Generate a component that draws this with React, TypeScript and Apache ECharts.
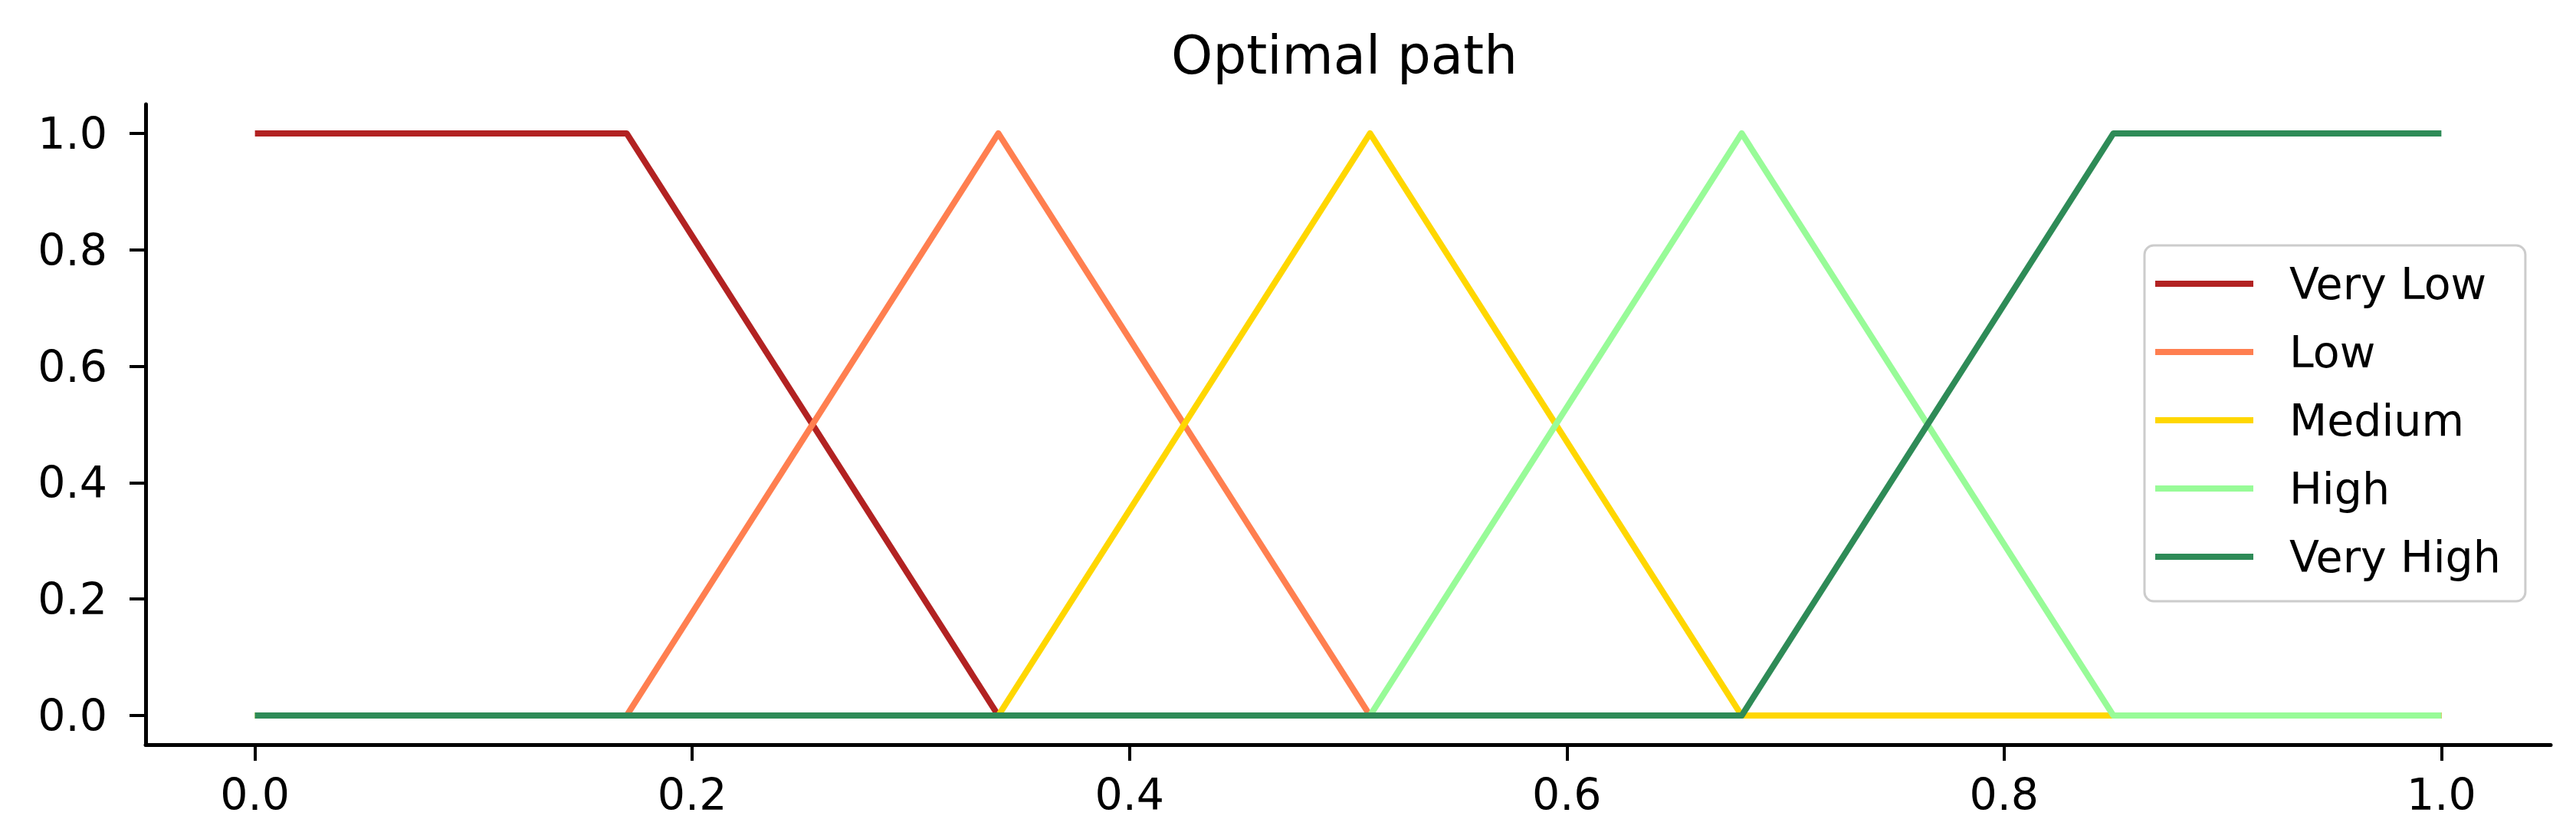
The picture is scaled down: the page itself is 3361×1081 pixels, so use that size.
import React, { useEffect, useRef } from "react";
import * as echarts from "echarts";

const TITLE = "Optimal path";
const SERIES_NAMES = ["Very Low", "Low", "Medium", "High", "Very High"];
const SERIES_COLORS = ["#B22222", "#FF7F50", "#FFD700", "#98FB98", "#2E8B57"];

const veryLowX = [0, 0.17, 0.34, 1];
const veryLowY = [1, 1, 0, 0];
const lowX = [0, 0.17, 0.34, 0.51, 1];
const lowY = [0, 0, 1, 0, 0];
const mediumX = [0, 0.34, 0.51, 0.68, 1];
const mediumY = [0, 0, 1, 0, 0];
const highX = [0, 0.51, 0.68, 0.85, 1];
const highY = [0, 0, 1, 0, 0];
const veryHighX = [0, 0.68, 0.85, 1];
const veryHighY = [0, 0, 1, 1];

const X_TICKS = [0, 0.2, 0.4, 0.6, 0.8, 1.0];
const Y_TICKS = [0, 0.2, 0.4, 0.6, 0.8, 1.0];

const FONT = "DejaVu Sans";

export default function App() {
  const ref = useRef<HTMLDivElement>(null);
  useEffect(() => {
    if (!ref.current) return;
    const chart = echarts.init(ref.current, undefined, { renderer: "svg" });
    const xs = [veryLowX, lowX, mediumX, highX, veryHighX];
    const ys = [veryLowY, lowY, mediumY, highY, veryHighY];
    const series = SERIES_NAMES.map((name, i) => ({
      name,
      type: "line",
      data: xs[i].map((x, j) => [x, ys[i][j]]),
      symbol: "none",
      showSymbol: false,
      lineStyle: { color: SERIES_COLORS[i], width: 8, join: "round" },
      itemStyle: { color: SERIES_COLORS[i] },
      emphasis: { disabled: true },
      z: 2 + i,
    }));
    const axisCommon = {
      type: "value",
      min: -0.05,
      max: 1.05,
      splitLine: { show: false },
      axisLine: { show: true, onZero: false, lineStyle: { color: "#000", width: 5 } },
      axisTick: {
        show: true,
        inside: false,
        length: 21,
        lineStyle: { color: "#000", width: 4 },
      },
    };
    chart.setOption({
      animation: false,
      backgroundColor: "#ffffff",
      title: {
        text: TITLE,
        left: 1754,
        top: 37,
        textAlign: "center",
        padding: 0,
        textStyle: { fontFamily: FONT, fontSize: 69, fontWeight: "normal", color: "#000" },
      },
      grid: { left: 190, right: 33, top: 136, bottom: 110, containLabel: false },
      legend: {
        orient: "vertical",
        left: 2798,
        top: 320,
        padding: [20, 32, 28, 14],
        itemWidth: 128,
        itemHeight: 8,
        itemGap: 29,
        icon: "rect",
        backgroundColor: "rgba(255,255,255,0.8)",
        borderColor: "#cccccc",
        borderWidth: 3,
        borderRadius: 12,
        data: SERIES_NAMES,
        textStyle: {
          fontFamily: FONT,
          fontSize: 57,
          lineHeight: 60,
          color: "#000",
          padding: [0, 0, 0, 42],
        },
      },
      xAxis: {
        ...axisCommon,
        axisTick: { ...axisCommon.axisTick, customValues: X_TICKS },
        axisLabel: {
          customValues: X_TICKS,
          margin: 36,
          fontFamily: FONT,
          fontSize: 57,
          color: "#000",
          formatter: (v: number) => v.toFixed(1),
        },
      },
      yAxis: {
        ...axisCommon,
        axisTick: { ...axisCommon.axisTick, customValues: Y_TICKS },
        axisLabel: {
          customValues: Y_TICKS,
          margin: 50,
          fontFamily: FONT,
          fontSize: 57,
          color: "#000",
          formatter: (v: number) => v.toFixed(1),
        },
      },
      series,
    });
    return () => chart.dispose();
  }, []);
  return (
    <div
      ref={ref}
      style={{ position: "fixed", left: 0, top: 0, width: 3361, height: 1081, background: "#fff" }}
    />
  );
}
